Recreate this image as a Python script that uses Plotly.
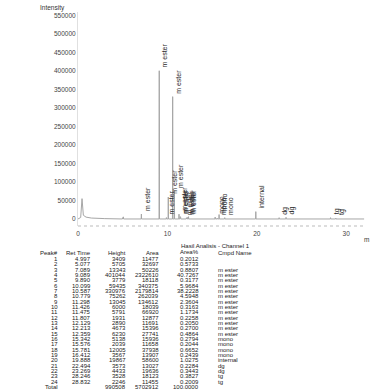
import plotly.graph_objects as go

# ---------------- data ----------------
peak_no = list(range(1, 25))
ret_time = [4.997, 5.077, 7.089, 9.089, 9.890, 10.099, 10.587, 10.779, 11.298, 11.426,
            11.475, 11.807, 12.129, 12.213, 12.359, 15.342, 15.576, 15.781, 16.412, 19.888,
            22.494, 23.269, 28.246, 28.832]
height = [3409, 5705, 13343, 401044, 3779, 59435, 330976, 75262, 13045, 6000,
          5791, 1931, 2890, 4673, 6230, 5138, 2039, 12005, 3567, 19867,
          3573, 4433, 3528, 2246]
area = [11477, 32697, 50226, 2322610, 18118, 340375, 2179814, 262039, 134612, 18039,
        66920, 12877, 11691, 15396, 27741, 15936, 11658, 37938, 13907, 58600,
        13027, 19636, 18123, 11455]
area_pct = ["0.2012", "0.5733", "0.8807", "40.7267", "0.3177", "5.9684", "38.2228", "4.5948",
            "2.3604", "0.3163", "1.1734", "0.2258", "0.2050", "0.2700", "0.4864", "0.2794",
            "0.2044", "0.6652", "0.2439", "1.0275", "0.2284", "0.3443", "0.3827", "0.2009"]
ret_time_txt = ["4.997", "5.077", "7.089", "9.089", "9.890", "10.099", "10.587", "10.779",
                "11.298", "11.426", "11.475", "11.807", "12.129", "12.213", "12.359", "15.342",
                "15.576", "15.781", "16.412", "19.888", "22.494", "23.269", "28.246", "28.832"]
cmpd = ["", "", "m ester", "m ester", "m ester", "m ester", "m ester", "m ester", "m ester",
        "m ester", "m ester", "m ester", "m ester", "m ester", "m ester", "mono", "mono",
        "mono", "mono", "internal", "dg", "dg", "tg", "tg"]
total_height = 990508
total_area = 5702912
total_pct = "100.0000"

# solvent front at start of the run
front_t = [0.0, 0.30, 0.45, 0.60, 0.90, 1.50, 3.00]
front_i = [0, 4000, 55000, 10000, 5000, 2500, 1000]
run_end = 32.0

y_ticks = list(range(0, 550001, 50000))
x_ticks = [0, 10, 20, 30]

# ---------------- layout constants ----------------
W, H = 389, 392
L, R, T, B = 78, 24, 12, 166
PW, PH = W - L - R, H - T - B


def px(xp):
    return (xp - L) / PW


def py(yp):
    return (H - B - yp) / PH


# ---------------- chromatogram trace ----------------
hw = 0.022
xs = list(front_t)
ys = list(front_i)
for t, h in zip(ret_time, height):
    xs += [t - hw, t, t + hw]
    ys += [0, h, 0]
xs.append(run_end)
ys.append(0)

fig = go.Figure()
fig.add_trace(go.Scatter(x=xs, y=ys, mode="lines",
                         line=dict(color="#a6a6a6", width=1),
                         hoverinfo="skip", showlegend=False))

# peak labels
for t, h, c in zip(ret_time, height, cmpd):
    if c:
        fig.add_annotation(x=t, y=h, text=c, textangle=-90, showarrow=False,
                           xanchor="left", yanchor="bottom", xshift=0, yshift=1,
                           font=dict(family="Liberation Sans, Arial", size=7, color="#2a2a2a"))

# dotted x axis line
fig.add_shape(type="line", xref="paper", yref="paper", x0=0, x1=1, y0=0, y1=0,
              line=dict(color="#bbbbbb", width=1, dash="dot"))

fig.update_layout(
    width=W, height=H,
    margin=dict(l=L, r=R, t=T, b=B),
    paper_bgcolor="white", plot_bgcolor="white",
    showlegend=False,
    xaxis=dict(range=[0, 32.1], tickvals=x_ticks, ticktext=[str(v) for v in x_ticks],
               showgrid=False, zeroline=False, showline=False, ticks="",
               tickfont=dict(family="Liberation Sans, Arial", size=6.5, color="#444"),
               ticklabelstandoff=2),
    yaxis=dict(range=[-19000, 560000], tickvals=y_ticks, ticktext=[str(v) for v in y_ticks],
               showgrid=False, zeroline=False, showline=True, linecolor="#e0e0e0", linewidth=1,
               ticks="", tickfont=dict(family="Liberation Sans, Arial", size=6.5, color="#444")),
)

# axis titles
fig.add_annotation(xref="paper", yref="paper", x=px(52), y=py(8), text="Intensity",
                   showarrow=False, xanchor="center", yanchor="middle",
                   font=dict(family="Liberation Sans, Arial", size=6.5, color="#333"))
fig.add_annotation(xref="paper", yref="paper", x=px(366), y=py(239), text="m",
                   showarrow=False, xanchor="center", yanchor="middle",
                   font=dict(family="Liberation Sans, Arial", size=6.5, color="#333"))

# ---------------- results table ----------------
tf = dict(family="Liberation Sans, Arial", size=6, color="#1a1a1a")


def cell(xp, yp, text, anchor="right"):
    fig.add_annotation(xref="paper", yref="paper", x=px(xp), y=py(yp), text=text,
                       showarrow=False, xanchor=anchor, yanchor="middle", font=tf)


cell(215, 246, "Hasil Analisis - Channel 1", "center")
header_y = 253
col_right = [60, 93, 128, 161, 201]
cell(col_right[0], header_y, "Peak#")
cell(col_right[1], header_y, "Ret Time")
cell(col_right[2], header_y, "Height")
cell(col_right[3], header_y, "Area")
cell(col_right[4], header_y - 1, "Area%")
cell(216, header_y, "Cmpd Name", "left")

row0, dy = 259, 5.33
for i in range(len(peak_no)):
    yy = row0 + i * dy
    cell(col_right[0], yy, str(peak_no[i]))
    cell(col_right[1], yy, ret_time_txt[i])
    cell(col_right[2], yy, str(height[i]))
    cell(col_right[3], yy, str(area[i]))
    cell(col_right[4], yy, area_pct[i])
    if cmpd[i]:
        cell(216, yy, cmpd[i], "left")
yy = row0 + len(peak_no) * dy
cell(col_right[0], yy, "Total")
cell(col_right[2], yy, str(total_height))
cell(col_right[3], yy, str(total_area))
cell(col_right[4], yy, total_pct)

fig.write_html("out.html")
